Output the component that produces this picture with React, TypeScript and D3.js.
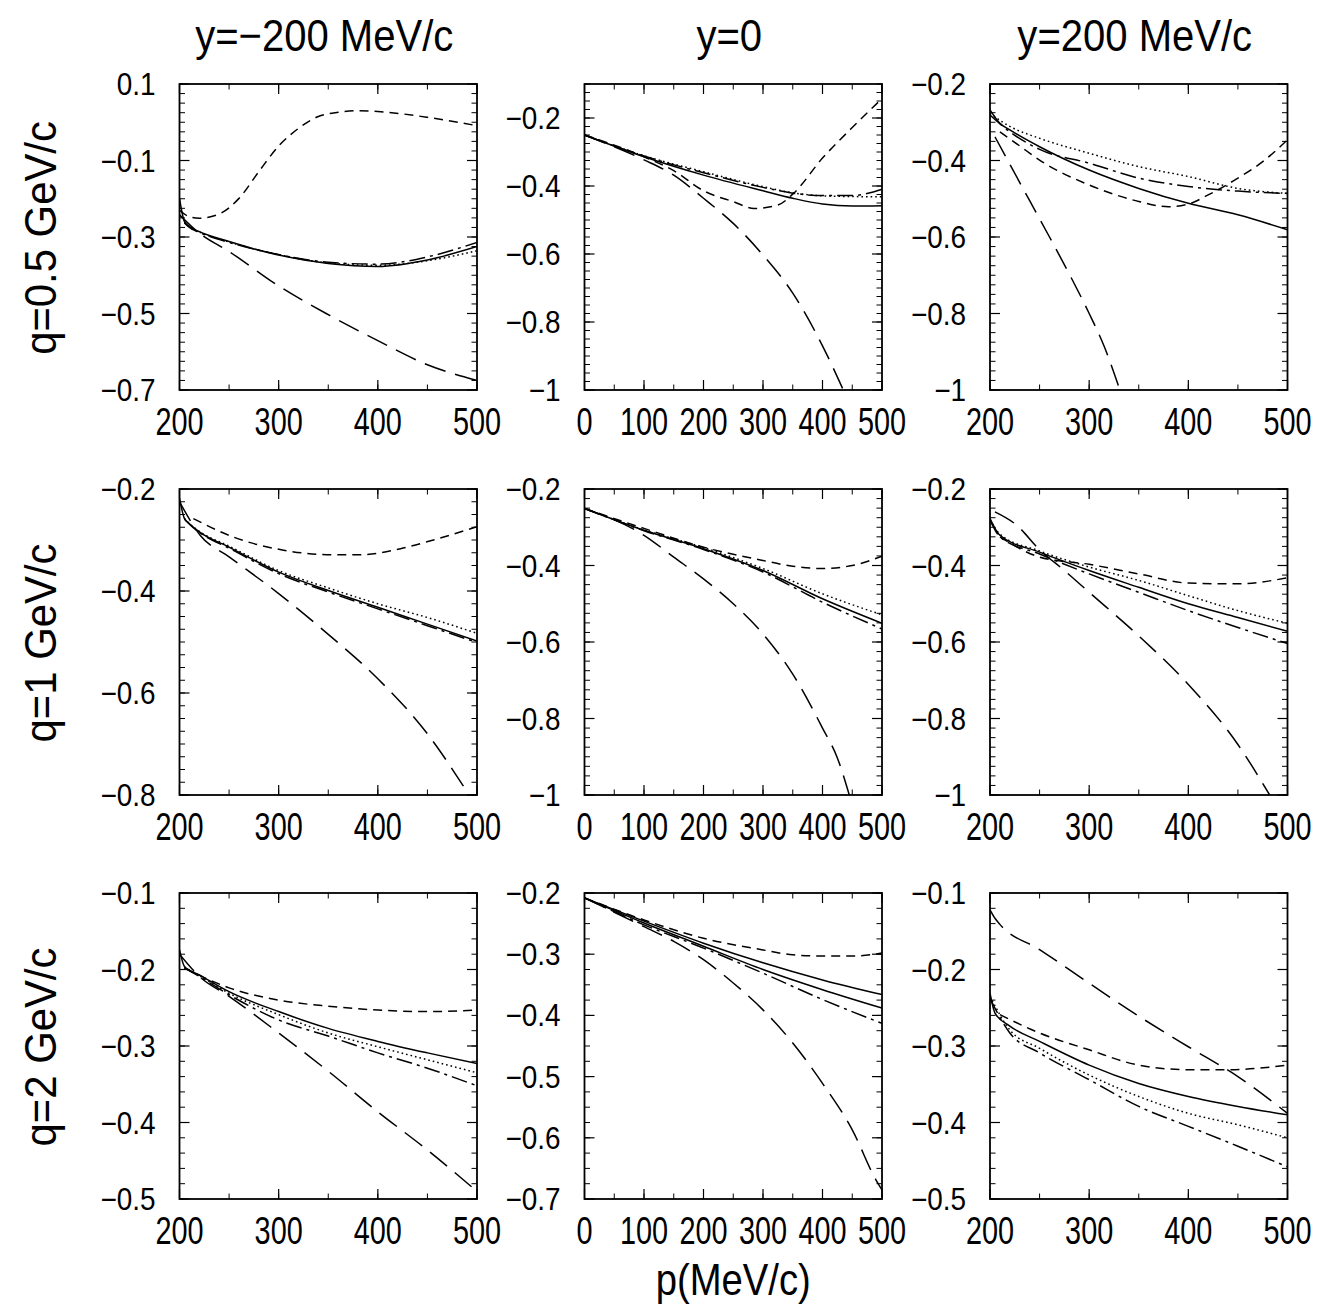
import React from 'react';
import * as d3 from 'd3';

// titles
const colTitles = ['y=\u2212200 MeV/c', 'y=0', 'y=200 MeV/c'];
const rowTitles = ['q=0.5 GeV/c', 'q=1 GeV/c', 'q=2 GeV/c'];
const xTitle = 'p(MeV/c)';

// axes, per column (x) and per panel (y), row-major
const xDomains = [[200, 500], [0, 500], [200, 500]];
const xMajor = [[200, 300, 400, 500], [0, 100, 200, 300, 400, 500], [200, 300, 400, 500]];
const xMinorStep = [50, 50, 50];

const yDomains = [
  [-0.7, 0.1], [-1, -0.1], [-1, -0.2],
  [-0.8, -0.2], [-1, -0.2], [-1, -0.2],
  [-0.5, -0.1], [-0.7, -0.2], [-0.5, -0.1],
];
const yMajor = [
  [0.1, -0.1, -0.3, -0.5, -0.7], [-0.2, -0.4, -0.6, -0.8, -1], [-0.2, -0.4, -0.6, -0.8, -1],
  [-0.2, -0.4, -0.6, -0.8], [-0.2, -0.4, -0.6, -0.8, -1], [-0.2, -0.4, -0.6, -0.8, -1],
  [-0.1, -0.2, -0.3, -0.4, -0.5], [-0.2, -0.3, -0.4, -0.5, -0.6, -0.7], [-0.1, -0.2, -0.3, -0.4, -0.5],
];
const yMinorStep = [0.025, 0.025, 0.025, 0.025, 0.025, 0.025, 0.02, 0.025, 0.02];

// ---- curves, [p, value] ----
// q=0.5, y=-200
const a1Solid = [[200, -0.199], [205, -0.26], [210, -0.273], [220, -0.286], [250, -0.312], [300, -0.347], [350, -0.369], [400, -0.377], [450, -0.36], [500, -0.325]];
const a1Dotted = [[205, -0.262], [210, -0.274], [220, -0.287], [250, -0.313], [300, -0.346], [350, -0.368], [400, -0.374], [450, -0.362], [500, -0.336]];
const a1DashDot = [[205, -0.263], [210, -0.275], [220, -0.288], [250, -0.314], [300, -0.346], [350, -0.366], [400, -0.371], [450, -0.352], [500, -0.314]];
const a1Short = [[200, -0.23], [210, -0.247], [220, -0.251], [240, -0.24], [260, -0.199], [280, -0.129], [300, -0.062], [320, -0.016], [340, 0.015], [360, 0.026], [380, 0.03], [400, 0.028], [450, 0.013], [500, -0.009]];
const a1Long = [[200, -0.242], [220, -0.29], [250, -0.338], [300, -0.428], [350, -0.503], [400, -0.571], [450, -0.634], [500, -0.675]];

// q=0.5, y=0
const a2Solid = [[0, -0.25], [100, -0.314], [200, -0.368], [300, -0.414], [350, -0.436], [400, -0.453], [450, -0.459], [500, -0.458]];
const a2Dotted = [[0, -0.25], [100, -0.311], [200, -0.358], [300, -0.402], [350, -0.42], [400, -0.429], [450, -0.431], [500, -0.432]];
const a2DashDot = [[0, -0.25], [100, -0.312], [200, -0.361], [300, -0.404], [350, -0.421], [400, -0.428], [450, -0.428], [480, -0.42], [500, -0.41]];
const a2Short = [[0, -0.25], [100, -0.314], [150, -0.355], [200, -0.414], [250, -0.446], [285, -0.466], [325, -0.456], [350, -0.424], [400, -0.318], [450, -0.228], [500, -0.143]];
const a2Long = [[0, -0.25], [100, -0.323], [150, -0.368], [200, -0.436], [250, -0.51], [300, -0.603], [350, -0.715], [400, -0.87], [435, -1.0]];

// q=0.5, y=200
const a3Solid = [[200, -0.268], [210, -0.303], [220, -0.32], [250, -0.364], [300, -0.425], [350, -0.473], [400, -0.512], [450, -0.542], [500, -0.581]];
const a3Dotted = [[200, -0.277], [220, -0.311], [250, -0.342], [300, -0.381], [350, -0.416], [400, -0.442], [450, -0.473], [500, -0.486]];
const a3DashDot = [[200, -0.281], [220, -0.325], [250, -0.371], [300, -0.407], [350, -0.446], [400, -0.468], [450, -0.48], [500, -0.486]];
const a3Short = [[210, -0.325], [230, -0.362], [250, -0.399], [300, -0.464], [350, -0.507], [380, -0.521], [400, -0.514], [420, -0.49], [450, -0.446], [475, -0.403], [500, -0.346]];
const a3Long = [[205, -0.338], [220, -0.41], [240, -0.505], [260, -0.6], [280, -0.697], [300, -0.8], [315, -0.885], [331, -1.0]];

// q=1, y=-200
const b1Solid = [[200, -0.218], [205, -0.258], [210, -0.268], [220, -0.284], [250, -0.314], [300, -0.363], [350, -0.399], [400, -0.432], [450, -0.465], [500, -0.498]];
const b1Dotted = [[205, -0.258], [210, -0.268], [220, -0.283], [250, -0.312], [300, -0.36], [350, -0.394], [400, -0.425], [450, -0.452], [500, -0.483]];
const b1DashDot = [[205, -0.259], [210, -0.269], [220, -0.285], [250, -0.316], [300, -0.366], [350, -0.402], [400, -0.435], [450, -0.468], [500, -0.501]];
const b1Short = [[214, -0.258], [254, -0.294], [305, -0.32], [355, -0.329], [382, -0.329], [423, -0.317], [456, -0.3], [500, -0.274]];
const b1Long = [[200, -0.225], [221, -0.291], [250, -0.333], [300, -0.405], [350, -0.485], [400, -0.572], [450, -0.68], [492, -0.8]];

// q=1, y=0
const b2Solid = [[0, -0.251], [100, -0.308], [200, -0.356], [300, -0.413], [400, -0.487], [500, -0.551]];
const b2Dotted = [[0, -0.251], [100, -0.307], [200, -0.353], [300, -0.408], [400, -0.474], [500, -0.529]];
const b2DashDot = [[0, -0.251], [100, -0.309], [200, -0.358], [300, -0.417], [400, -0.496], [500, -0.566]];
const b2Short = [[0, -0.251], [100, -0.303], [200, -0.352], [300, -0.387], [350, -0.402], [400, -0.408], [450, -0.4], [500, -0.376]];
const b2Long = [[0, -0.251], [100, -0.321], [150, -0.378], [200, -0.435], [250, -0.5], [300, -0.579], [350, -0.684], [400, -0.825], [425, -0.903], [445, -1.0]];

// q=1, y=200
const b3Solid = [[200, -0.277], [210, -0.321], [250, -0.365], [300, -0.413], [350, -0.457], [400, -0.5], [450, -0.536], [500, -0.572]];
const b3Dotted = [[200, -0.28], [210, -0.318], [250, -0.362], [300, -0.404], [350, -0.439], [400, -0.479], [450, -0.518], [500, -0.551]];
const b3DashDot = [[200, -0.282], [210, -0.325], [250, -0.37], [300, -0.422], [350, -0.47], [400, -0.518], [450, -0.562], [500, -0.604]];
const b3Short = [[210, -0.325], [250, -0.378], [300, -0.397], [350, -0.422], [400, -0.446], [450, -0.448], [500, -0.432]];
const b3Long = [[205, -0.26], [227, -0.295], [250, -0.359], [275, -0.413], [300, -0.47], [350, -0.584], [400, -0.711], [450, -0.868], [482, -1.0]];

// q=2, y=-200
const c1Solid = [[200, -0.174], [205, -0.196], [220, -0.207], [250, -0.229], [300, -0.255], [350, -0.277], [400, -0.294], [450, -0.309], [500, -0.323]];
const c1Dotted = [[205, -0.197], [220, -0.208], [250, -0.231], [300, -0.259], [350, -0.283], [400, -0.301], [450, -0.318], [500, -0.335]];
const c1DashDot = [[205, -0.198], [220, -0.209], [250, -0.233], [300, -0.266], [350, -0.287], [400, -0.309], [450, -0.329], [500, -0.352]];
const c1Short = [[205, -0.198], [250, -0.224], [300, -0.24], [350, -0.248], [400, -0.253], [450, -0.255], [500, -0.253]];
const c1Long = [[200, -0.18], [220, -0.209], [250, -0.235], [300, -0.283], [350, -0.333], [400, -0.386], [450, -0.436], [500, -0.49]];

// q=2, y=0
const c2Solid = [[0, -0.208], [100, -0.246], [200, -0.282], [300, -0.314], [400, -0.342], [500, -0.366]];
const c2Dotted = [[0, -0.208], [100, -0.249], [200, -0.287], [300, -0.325], [400, -0.358], [500, -0.388]];
const c2DashDot = [[0, -0.208], [100, -0.252], [200, -0.29], [300, -0.331], [400, -0.374], [500, -0.413]];
const c2Short = [[0, -0.208], [100, -0.244], [200, -0.274], [300, -0.293], [350, -0.301], [400, -0.303], [450, -0.303], [500, -0.298]];
const c2Long = [[0, -0.208], [100, -0.255], [150, -0.279], [200, -0.309], [250, -0.347], [300, -0.391], [350, -0.445], [400, -0.511], [450, -0.587], [490, -0.669], [500, -0.685]];

// q=2, y=200
const c3Solid = [[200, -0.231], [205, -0.257], [220, -0.274], [250, -0.294], [300, -0.325], [350, -0.349], [400, -0.366], [450, -0.379], [500, -0.39]];
const c3Dotted = [[200, -0.235], [220, -0.279], [250, -0.303], [300, -0.338], [350, -0.366], [400, -0.388], [450, -0.403], [500, -0.42]];
const c3DashDot = [[200, -0.238], [220, -0.283], [250, -0.309], [300, -0.344], [350, -0.379], [400, -0.405], [450, -0.431], [500, -0.458]];
const c3Short = [[210, -0.259], [250, -0.283], [300, -0.305], [350, -0.325], [400, -0.331], [440, -0.331], [500, -0.325]];
const c3Long = [[200, -0.122], [205, -0.133], [210, -0.141], [250, -0.174], [300, -0.218], [350, -0.261], [400, -0.301], [450, -0.34], [500, -0.388]];

const panelCurves = [
  [a1Solid, a1Dotted, a1DashDot, a1Short, a1Long],
  [a2Solid, a2Dotted, a2DashDot, a2Short, a2Long],
  [a3Solid, a3Dotted, a3DashDot, a3Short, a3Long],
  [b1Solid, b1Dotted, b1DashDot, b1Short, b1Long],
  [b2Solid, b2Dotted, b2DashDot, b2Short, b2Long],
  [b3Solid, b3Dotted, b3DashDot, b3Short, b3Long],
  [c1Solid, c1Dotted, c1DashDot, c1Short, c1Long],
  [c2Solid, c2Dotted, c2DashDot, c2Short, c2Long],
  [c3Solid, c3Dotted, c3DashDot, c3Short, c3Long],
];

// solid, dotted, dash-dot, short dash, long dash
const dashes = ['none', '1.6,3', '16,5,3,5', '9,6', '22,10'];
// in the q=2, y=0 panel the dotted curve prints as a continuous line
const dottedLooksSolid = [7];

const W = 1325;
const H = 1311;
const colLeft = [179.5, 584.5, 990];
const rowTop = [84, 489, 893];
const pw = 297.5;
const ph = 306;
const font = '"Liberation Sans", Arial, Helvetica, sans-serif';

const fmt = (v: number) => {
  const s = d3.format('.1f')(v).replace('-', '\u2212');
  return s === '\u22121.0' ? '\u22121' : s;
};

function Panel({ idx }: { idx: number }) {
  const r = Math.floor(idx / 3);
  const c = idx % 3;
  const x0 = colLeft[c];
  const y0 = rowTop[r];
  const x = d3.scaleLinear().domain(xDomains[c]).range([0, pw]);
  const y = d3.scaleLinear().domain(yDomains[idx]).range([ph, 0]);
  const [ylo, yhi] = yDomains[idx];
  const ystep = yMinorStep[idx];
  const yMinor = d3.range(Math.round((yhi - ylo) / ystep) + 1).map(i => ylo + i * ystep);
  const [xlo, xhi] = xDomains[c];
  const xMinor = d3.range(xlo, xhi + 1, xMinorStep[c]);
  const line = d3.line<number[]>().x(d => x(d[0])).y(d => y(d[1])).curve(d3.curveMonotoneX);
  const clipId = `clip${idx}`;
  const major = 10;
  const minor = 5.5;
  return (
    <g transform={`translate(${x0},${y0})`}>
      <defs>
        <clipPath id={clipId}><rect x={0} y={0} width={pw} height={ph} /></clipPath>
      </defs>
      {/* y ticks, mirrored */}
      {yMinor.map((v, i) => (
        <g key={'ym' + i} stroke="#000" strokeWidth={1}>
          <line x1={0} x2={minor} y1={y(v)} y2={y(v)} />
          <line x1={pw} x2={pw - minor} y1={y(v)} y2={y(v)} />
        </g>
      ))}
      {yMajor[idx].map((v, i) => (
        <g key={'yM' + i}>
          <line x1={0} x2={major} y1={y(v)} y2={y(v)} stroke="#000" strokeWidth={1.2} />
          <line x1={pw} x2={pw - major} y1={y(v)} y2={y(v)} stroke="#000" strokeWidth={1.2} />
          <text
            transform={`translate(-24,${y(v) + 11}) scale(0.9,1)`}
            textAnchor="end" fontSize={31} fontFamily={font}>{fmt(v)}</text>
        </g>
      ))}
      {xMinor.map((v, i) => (
        <g key={'xm' + i} stroke="#000" strokeWidth={1}>
          <line x1={x(v)} x2={x(v)} y1={ph} y2={ph - minor} />
          <line x1={x(v)} x2={x(v)} y1={0} y2={minor} />
        </g>
      ))}
      {xMajor[c].map((v, i) => (
        <g key={'xM' + i}>
          <line x1={x(v)} x2={x(v)} y1={ph} y2={ph - major} stroke="#000" strokeWidth={1.2} />
          <line x1={x(v)} x2={x(v)} y1={0} y2={major} stroke="#000" strokeWidth={1.2} />
          <text
            transform={`translate(${x(v)},${ph + 45}) scale(0.76,1)`}
            textAnchor="middle" fontSize={38} fontFamily={font}>{v}</text>
        </g>
      ))}
      <g clipPath={`url(#${clipId})`}>
        {panelCurves[idx].map((pts, k) => (
          <path key={k} d={line(pts) ?? ''} fill="none" stroke="#000"
            strokeWidth={1.5}
            strokeDasharray={k === 1 && dottedLooksSolid.includes(idx) ? 'none' : dashes[k]} />
        ))}
      </g>
      <rect x={0} y={0} width={pw} height={ph} fill="none" stroke="#000" strokeWidth={1.8} />
    </g>
  );
}

export default function App() {
  return (
    <svg width={W} height={H} style={{ position: 'absolute', left: 0, top: 0, background: '#fff' }}>
      <rect width={W} height={H} fill="#fff" />
      {colTitles.map((t, i) => (
        <text key={t} transform={`translate(${colLeft[i] + pw / 2 - 4},51) scale(0.89,1)`}
          textAnchor="middle" fontSize={45} fontFamily={font}>{t}</text>
      ))}
      {rowTitles.map((t, i) => (
        <text key={t} transform={`translate(56,${rowTop[i] + ph / 2 + 1}) rotate(-90) scale(0.93,1)`}
          textAnchor="middle" fontSize={45} fontFamily={font}>{t}</text>
      ))}
      <text transform={`translate(${colLeft[1] + pw / 2},1295) scale(0.85,1)`}
        textAnchor="middle" fontSize={45} fontFamily={font}>{xTitle}</text>
      {d3.range(9).map(i => <Panel key={i} idx={i} />)}
    </svg>
  );
}
